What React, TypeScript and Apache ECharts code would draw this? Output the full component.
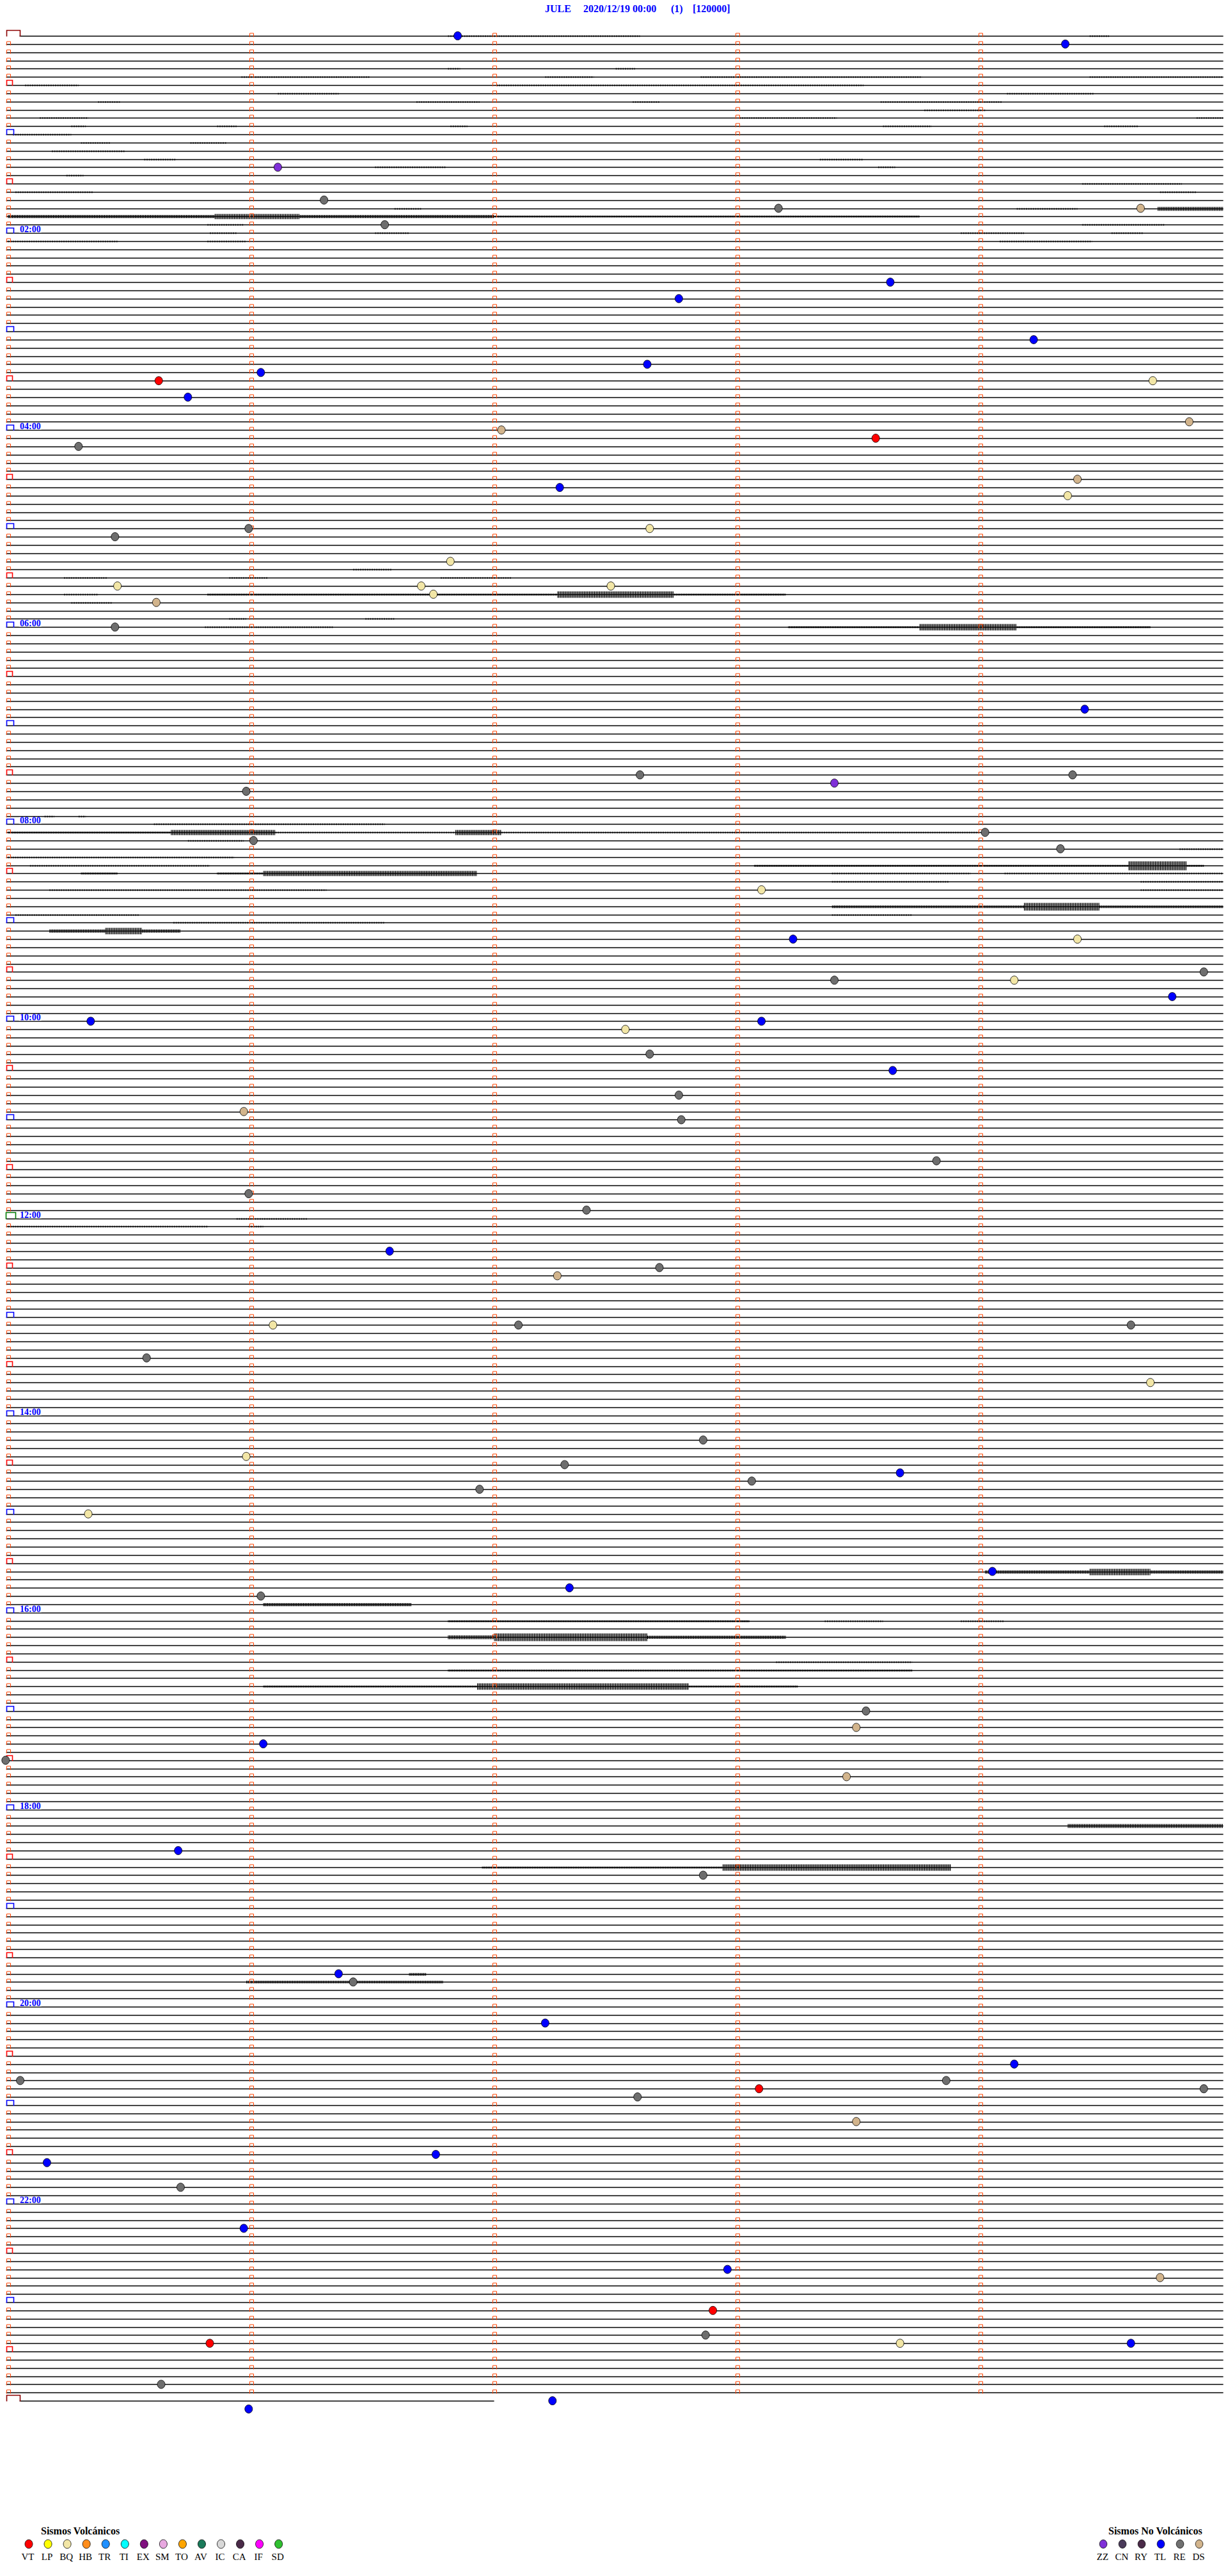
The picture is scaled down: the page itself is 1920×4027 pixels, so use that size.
import React, { useEffect, useRef } from "react";
import * as echarts from "echarts";

// ---- helicorder layout data (5 minutes per trace line, 289 lines: 00:00 .. 24:00)
const TRACE_COUNT = 289;
const LAST_TRACE_END = 2; // minutes drawn on the last (partial) trace
const MINUTES_PER_LINE = 5;

const HOUR_LABELS: [number, string][] = [
  [24, "02:00"], [48, "04:00"], [72, "06:00"], [96, "08:00"], [120, "10:00"],
  [144, "12:00"], [168, "14:00"], [192, "16:00"], [216, "18:00"], [240, "20:00"], [264, "22:00"],
];

// ---- noise bursts: [line, startMinute, endMinute, halfAmplitudePx]
const BURSTS: number[][] = [
  [0, 1.81, 2.6, 1], [0, 4.45, 4.53, 1],
  [4, 1.81, 1.86, 1], [4, 2.5, 2.58, 1],
  [5, 0.96, 1.49, 1], [5, 2.21, 2.41, 1], [5, 2.85, 3.76, 1], [5, 4.45, 5.0, 1.2],
  [6, 0.07, 0.29, 0.8], [6, 2.01, 3.52, 0.9],
  [7, 1.11, 1.36, 1], [7, 4.11, 4.47, 1],
  [8, 0.37, 0.46, 1], [8, 1.68, 1.94, 1], [8, 2.57, 2.68, 1], [8, 3.59, 4.09, 1],
  [9, 3.77, 4.02, 1],
  [10, 0.13, 0.33, 0.8], [10, 3.01, 3.41, 1], [10, 4.89, 5.0, 1],
  [11, 0.26, 0.32, 1], [11, 0.86, 0.94, 1], [11, 1.82, 1.89, 0.8], [11, 3.6, 3.8, 1], [11, 4.51, 4.65, 1],
  [12, 0.02, 0.26, 1],
  [13, 0.3, 0.42, 1], [13, 0.75, 0.9, 1],
  [14, 0.18, 0.48, 1],
  [15, 0.56, 0.69, 1], [15, 3.34, 3.52, 0.8],
  [16, 1.51, 1.8, 1], [16, 3.58, 3.65, 1],
  [17, 0.24, 0.31, 1],
  [18, 4.42, 4.83, 1],
  [19, 0.03, 0.35, 1], [19, 4.74, 4.89, 1],
  [21, 1.59, 1.7, 1], [21, 4.15, 4.4, 1], [21, 4.73, 5.0, 3],
  [22, 0.0, 0.85, 2.5], [22, 0.85, 1.2, 4], [22, 1.2, 2.0, 2.5], [22, 2.0, 3.75, 1.5],
  [23, 0.82, 0.97, 1], [23, 4.42, 4.76, 1],
  [24, 0.83, 0.94, 1], [24, 1.51, 1.65, 1], [24, 3.92, 4.18, 1], [24, 4.54, 4.67, 1],
  [25, 0.0, 0.45, 1], [25, 0.82, 0.98, 1], [25, 4.08, 4.46, 1],
  [65, 1.42, 1.58, 1],
  [66, 0.23, 0.41, 1], [66, 0.91, 1.07, 1], [66, 1.78, 2.07, 1],
  [68, 0.23, 0.37, 1], [68, 0.82, 2.26, 1.5], [68, 2.26, 2.74, 5], [68, 2.74, 3.2, 1.5],
  [69, 0.26, 0.43, 1],
  [71, 0.91, 0.98, 1], [71, 1.47, 1.59, 1],
  [72, 0.81, 1.34, 1], [72, 3.21, 3.75, 1.5], [72, 3.75, 4.15, 5], [72, 4.15, 4.7, 1.5],
  [95, 0.15, 0.19, 1], [95, 0.29, 0.32, 1],
  [96, 0.6, 1.55, 0.8],
  [97, 0.0, 0.67, 1.5], [97, 0.67, 1.1, 4], [97, 1.1, 1.84, 1.2], [97, 1.84, 2.03, 4], [97, 2.03, 4.0, 1.2],
  [98, 0.74, 0.97, 1],
  [99, 4.82, 5.0, 1],
  [100, 0.0, 0.93, 0.8],
  [101, 0.09, 0.83, 0.8], [101, 3.07, 4.61, 1.5], [101, 4.61, 4.85, 7], [101, 4.85, 4.92, 1.5],
  [102, 0.3, 0.45, 1.5], [102, 0.86, 1.05, 1.5], [102, 1.05, 1.93, 4], [102, 3.39, 3.96, 0.8], [102, 4.1, 5.0, 0.8],
  [103, 3.39, 3.87, 0.8], [103, 4.66, 5.0, 0.8],
  [104, 0.17, 1.31, 0.8], [104, 4.66, 5.0, 1],
  [106, 3.39, 4.18, 2], [106, 4.18, 4.49, 6], [106, 4.49, 5.0, 2],
  [107, 0.03, 0.54, 0.8], [107, 3.39, 3.72, 0.8],
  [108, 0.68, 1.55, 1],
  [109, 0.17, 0.4, 2.5], [109, 0.4, 0.55, 5], [109, 0.55, 0.71, 2.5],
  [144, 0.94, 1.23, 0.8],
  [145, 0.0, 0.82, 1], [145, 0.99, 1.05, 1],
  [187, 4.02, 4.45, 2.5], [187, 4.45, 4.7, 5], [187, 4.7, 5.0, 2.5],
  [191, 1.05, 1.66, 2.5],
  [193, 1.81, 3.05, 1.5], [193, 3.36, 3.6, 1], [193, 3.92, 4.1, 1],
  [195, 1.81, 2.0, 3], [195, 2.0, 2.63, 6], [195, 2.63, 3.2, 2.5],
  [198, 3.16, 3.72, 1],
  [199, 1.81, 3.72, 1.5],
  [201, 1.05, 1.93, 1.5], [201, 1.93, 2.8, 5], [201, 2.8, 3.25, 1.5],
  [218, 4.36, 5.0, 3],
  [223, 1.95, 2.94, 1.5], [223, 2.94, 3.88, 5],
  [236, 1.65, 1.72, 2],
  [237, 0.98, 1.79, 2],
];

// ---- classified events: [minuteInLine, line]
const EV_TL: number[][] = [
  [1.85, 0], [4.35, 1], [2.76, 32], [3.63, 30], [4.22, 37], [2.63, 40], [1.04, 41], [0.74, 44],
  [2.27, 55], [4.43, 82], [3.23, 110], [4.79, 117], [0.34, 120], [3.1, 120], [3.64, 126],
  [1.57, 148], [3.67, 175], [2.31, 189], [4.05, 187], [1.05, 208], [0.7, 221], [1.36, 236],
  [2.21, 242], [4.14, 247], [0.16, 259], [1.76, 258], [0.97, 267], [2.96, 272], [4.62, 281],
  [2.24, 288], [0.99, 289],
];
const EV_RE: number[][] = [
  [1.3, 20], [3.17, 21], [1.55, 23], [0.29, 50], [0.44, 61], [0.99, 60], [0.44, 72], [2.6, 90],
  [4.38, 90], [0.98, 92], [4.02, 97], [1.01, 98], [4.33, 99], [4.92, 114], [3.4, 115], [2.64, 124],
  [2.76, 129], [2.77, 132], [3.82, 137], [0.99, 141], [2.38, 143], [2.68, 150], [4.62, 157],
  [2.1, 157], [0.57, 161], [2.86, 171], [2.29, 174], [3.06, 176], [1.94, 177], [1.04, 190],
  [3.53, 204], [-0.01, 210], [2.86, 224], [1.42, 237], [0.05, 249], [3.86, 249], [4.92, 250],
  [2.59, 251], [0.71, 262], [2.87, 280], [0.63, 286],
];
const EV_DS: number[][] = [
  [4.66, 21], [4.86, 47], [2.03, 48], [4.4, 54], [0.61, 69], [0.97, 131], [2.26, 151],
  [3.49, 206], [3.45, 212], [3.49, 254], [4.74, 273],
];
const EV_BQ: number[][] = [
  [4.71, 42], [4.36, 56], [2.64, 60], [1.82, 64], [0.45, 67], [1.7, 67], [1.75, 68], [2.48, 67],
  [3.1, 104], [4.4, 110], [4.14, 115], [2.54, 121], [1.09, 157], [4.7, 164], [0.98, 173],
  [0.33, 180], [3.67, 281],
];
const EV_VT: number[][] = [[0.62, 42], [3.57, 49], [3.09, 250], [2.9, 277], [0.83, 281]];
const EV_ZZ: number[][] = [[1.11, 16], [3.4, 91]];

// ---- legends
const VOLC_TYPES = ["VT", "LP", "BQ", "HB", "TR", "TI", "EX", "SM", "TO", "AV", "IC", "CA", "IF", "SD"];
const VOLC_COLORS = ["#ff0000", "#ffff00", "#f2e6a6", "#ff8c1a", "#1e8fff", "#00ffff", "#80107f",
  "#e8a8e0", "#ffa500", "#1a7a5a", "#d8d8d8", "#4a2a48", "#ff00ff", "#30c030"];
const NONVOLC_TYPES = ["ZZ", "CN", "RY", "TL", "RE", "DS"];
const NONVOLC_COLORS = ["#7f30d8", "#4a3a5a", "#4a2a48", "#0000ff", "#707070", "#d2b48c"];

const TITLE_PARTS: [string, number][] = [["JULE", 852], ["2020/12/19 00:00", 912], ["(1)", 1049], ["[120000]", 1083]];

const SERIF = '"Liberation Serif", "Times New Roman", serif';

export default function App() {
  const ref = useRef<HTMLDivElement>(null);

  useEffect(() => {
    document.body.style.margin = "0";
    if (!ref.current) return;
    const chart = echarts.init(ref.current, undefined, { renderer: "svg" });

    const traceData: number[][] = [];
    for (let i = 0; i < TRACE_COUNT; i++) {
      traceData.push([i, i === TRACE_COUNT - 1 ? LAST_TRACE_END : MINUTES_PER_LINE]);
    }

    const snap = (v: number) => Math.round(v) + 0.5;

    const renderTrace = (params: any, api: any) => {
      const line = api.value(0);
      const end = api.value(1);
      const p0 = api.coord([0, line]);
      const p1 = api.coord([end, line]);
      const y = snap(p0[1]);
      const children: any[] = [];
      const isEdge = line === 0 || line === TRACE_COUNT - 1;
      const isHour = line % 12 === 0;
      const isHalf = line % 12 === 6;
      let startX = p0[0] - 3;
      if (isEdge) startX = p0[0] + 18;
      children.push({
        type: "line",
        shape: { x1: startX, y1: y, x2: p1[0], y2: y },
        style: { stroke: "#000", lineWidth: 1.3 },
      });
      if (line < TRACE_COUNT - 1) {
        for (let m = 1; m < end; m++) {
          const mx = snap(api.coord([m, line])[0]);
          children.push({
            type: "polyline",
            shape: { points: [[mx - 3, y + 1.5], [mx - 3, y - 4.5], [mx + 3, y - 4.5], [mx + 3, y + 1.5]] },
            style: { stroke: "#ff4400", lineWidth: 1, fill: null },
          });
        }
      }
      const lx = snap(p0[0]);
      let box: any = null;
      if (isEdge) {
        box = { x0: lx - 3, x1: lx + 18, h: 9, color: "#8b0000" };
      } else if (isHour) {
        box = line === 144
          ? { x0: lx - 4, x1: lx + 11, h: 10, color: "#007a00" }
          : { x0: lx - 3, x1: lx + 8, h: 8, color: "#0000ff" };
      } else if (isHalf) {
        box = { x0: lx - 3, x1: lx + 6, h: 8, color: "#ff0000" };
      }
      if (box) {
        children.push({
          type: "polyline",
          shape: { points: [[box.x0, y + 0.5], [box.x0, y - box.h], [box.x1, y - box.h], [box.x1, y + 0.5]] },
          style: { stroke: box.color, lineWidth: 1.6, fill: null },
        });
      } else {
        children.push({
          type: "polyline",
          shape: { points: [[lx - 3, y + 1.5], [lx - 3, y - 4.5], [lx + 3, y - 4.5], [lx + 3, y + 1.5]] },
          style: { stroke: "#ff4400", lineWidth: 1, fill: null },
        });
      }
      return { type: "group", children };
    };

    // noise drawn as a striped band (vertical hatch) around the trace
    const renderBurst = (params: any, api: any) => {
      const line = api.value(0);
      const a = api.coord([api.value(1), line]);
      const b = api.coord([api.value(2), line]);
      const amp = api.value(3);
      const y = snap(a[1]);
      const light = amp <= 1.2;
      return {
        type: "line",
        shape: { x1: a[0], y1: y, x2: Math.max(a[0] + 1, b[0]), y2: y },
        style: {
          stroke: "#000",
          lineWidth: light ? 2.2 : amp * 2,
          lineDash: light ? [2, 1.6] : [1, 0.6],
          lineCap: "butt",
        },
      };
    };

    const renderLabel = (params: any, api: any) => {
      const line = api.value(1);
      const p = api.coord([0, line]);
      const y = snap(p[1]);
      const txt = HOUR_LABELS[params.dataIndex][1];
      return {
        type: "group",
        children: [
          { type: "rect", shape: { x: p[0] + 17, y: y - 11, width: 35, height: 10.3 }, style: { fill: "#fff" } },
          {
            type: "text",
            style: {
              text: txt, x: p[0] + 18.5, y: y + 1,
              fill: "#0000ff", font: `bold 14px ${SERIF}`,
              textAlign: "left", textVerticalAlign: "bottom", align: "left", verticalAlign: "bottom",
            },
          },
        ],
      };
    };

    const evSeries = (name: string, data: number[][], color: string) => ({
      type: "scatter",
      name,
      data,
      symbol: "circle",
      symbolSize: [12, 13],
      clip: false,
      z: 5,
      itemStyle: { color, borderColor: "#000", borderWidth: 0.8, opacity: 1 },
    });

    const graphics: any[] = [];
    TITLE_PARTS.forEach(([t, x]) => {
      graphics.push({
        type: "text", left: x, top: 5,
        style: { text: t, fill: "#0000ff", font: `bold 16px ${SERIF}` },
      });
    });
    // volcanic legend
    graphics.push({ type: "text", left: 64, top: 3948, style: { text: "Sismos Volcánicos", fill: "#000", font: `bold 16px ${SERIF}` } });
    VOLC_TYPES.forEach((t, i) => {
      const cx = 45 + i * 30.05;
      graphics.push({ type: "ellipse", shape: { cx, cy: 3977, rx: 6, ry: 6.8 }, style: { fill: VOLC_COLORS[i], stroke: "#000", lineWidth: 0.8 } });
      graphics.push({
        type: "text", x: cx - 1.5, y: 3997,
        style: { text: t, fill: "#000", font: `15px ${SERIF}`, textAlign: "center", textVerticalAlign: "middle", align: "center", verticalAlign: "middle" },
      });
    });
    graphics.push({ type: "text", left: 1733, top: 3948, style: { text: "Sismos No Volcánicos", fill: "#000", font: `bold 16px ${SERIF}` } });
    NONVOLC_TYPES.forEach((t, i) => {
      const cx = 1725 + i * 30;
      graphics.push({ type: "ellipse", shape: { cx, cy: 3977, rx: 5.8, ry: 6.5 }, style: { fill: NONVOLC_COLORS[i], stroke: "#000", lineWidth: 0.8 } });
      graphics.push({
        type: "text", x: cx - 1, y: 3997,
        style: { text: t, fill: "#000", font: `15px ${SERIF}`, textAlign: "center", textVerticalAlign: "middle", align: "center", verticalAlign: "middle" },
      });
    });

    chart.setOption({
      animation: false,
      backgroundColor: "#fff",
      grid: { left: 12.6, top: 56, width: 1900, height: 289 * 12.837 },
      xAxis: { type: "value", min: 0, max: MINUTES_PER_LINE, show: false },
      yAxis: { type: "value", min: 0, max: TRACE_COUNT, inverse: true, show: false },
      graphic: graphics,
      series: [
        { type: "custom", name: "bursts", data: BURSTS, renderItem: renderBurst, z: 1, clip: false },
        { type: "custom", name: "traces", data: traceData, renderItem: renderTrace, z: 2, clip: false },
        { type: "custom", name: "hours", data: HOUR_LABELS.map(([l]) => [0, l]), renderItem: renderLabel, z: 3, clip: false },
        evSeries("TL", EV_TL, "#0000ff"),
        evSeries("RE", EV_RE, "#6e6e6e"),
        evSeries("DS", EV_DS, "#d2b48c"),
        evSeries("BQ", EV_BQ, "#f2e6a6"),
        evSeries("VT", EV_VT, "#ff0000"),
        evSeries("ZZ", EV_ZZ, "#7f30d8"),
      ],
    });

    return () => chart.dispose();
  }, []);

  return <div ref={ref} style={{ width: 1920, height: 4027 }} />;
}
